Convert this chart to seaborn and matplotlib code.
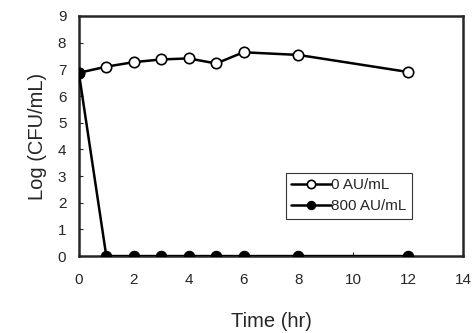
import numpy as np
import pandas as pd
import seaborn as sns
import matplotlib
matplotlib.use('Agg')
import matplotlib.pyplot as plt

# data
time_ctrl = [0, 1, 2, 3, 4, 5, 6, 8, 12]
log_ctrl = [6.87, 7.1, 7.27, 7.37, 7.41, 7.22, 7.64, 7.54, 6.9]
time_treat = [0, 1, 2, 3, 4, 5, 6, 8, 12]
log_treat = [6.87, 0, 0, 0, 0, 0, 0, 0, 0]
labels = ['0 AU/mL', '800 AU/mL']

sns.set_style('ticks')
plt.rcParams['font.family'] = ['Liberation Sans', 'DejaVu Sans']

df = pd.concat([
    pd.DataFrame({'t': time_ctrl, 'y': log_ctrl, 'dose': labels[0]}),
    pd.DataFrame({'t': time_treat, 'y': log_treat, 'dose': labels[1]}),
])

fig = plt.figure(figsize=(4.75, 3.33), dpi=100)
ax = fig.add_axes([0.166, 0.231, 0.809, 0.721])

sns.lineplot(data=df[df.dose == labels[0]], x='t', y='y', ax=ax, color='black',
             lw=1.8, marker='o', markersize=7.5, markerfacecolor='white',
             markeredgecolor='black', markeredgewidth=1.2, label=labels[0], zorder=3)
sns.lineplot(data=df[df.dose == labels[1]], x='t', y='y', ax=ax, color='black',
             lw=1.8, marker='o', markersize=7.5, markerfacecolor='black',
             markeredgecolor='black', label=labels[1], zorder=4)

ax.set_xlim(0, 14)
ax.set_ylim(0, 9)
ax.set_xticks(np.arange(0, 15, 2))
ax.set_yticks(np.arange(0, 10, 1))
ax.tick_params(direction='in', length=3, width=0.8, labelsize=11)
ax.tick_params(axis='x', pad=12)
ax.tick_params(axis='y', pad=9)
for s in ax.spines.values():
    s.set_linewidth(1.8)
    s.set_visible(True)
ax.set_xlabel('Time (hr)', fontsize=14.5, labelpad=18)
ax.set_ylabel('Log (CFU/mL)', fontsize=14.5, labelpad=8)

leg = ax.legend(loc='upper left', bbox_to_anchor=(0.519, 0.378), frameon=True,
                fancybox=False, edgecolor='black', fontsize=11, handlelength=2.6,
                handletextpad=0.0, borderpad=0.35, labelspacing=0.45,
                markerscale=0.8)
leg.get_frame().set_linewidth(0.8)

fig.savefig('out.png', dpi=100)
